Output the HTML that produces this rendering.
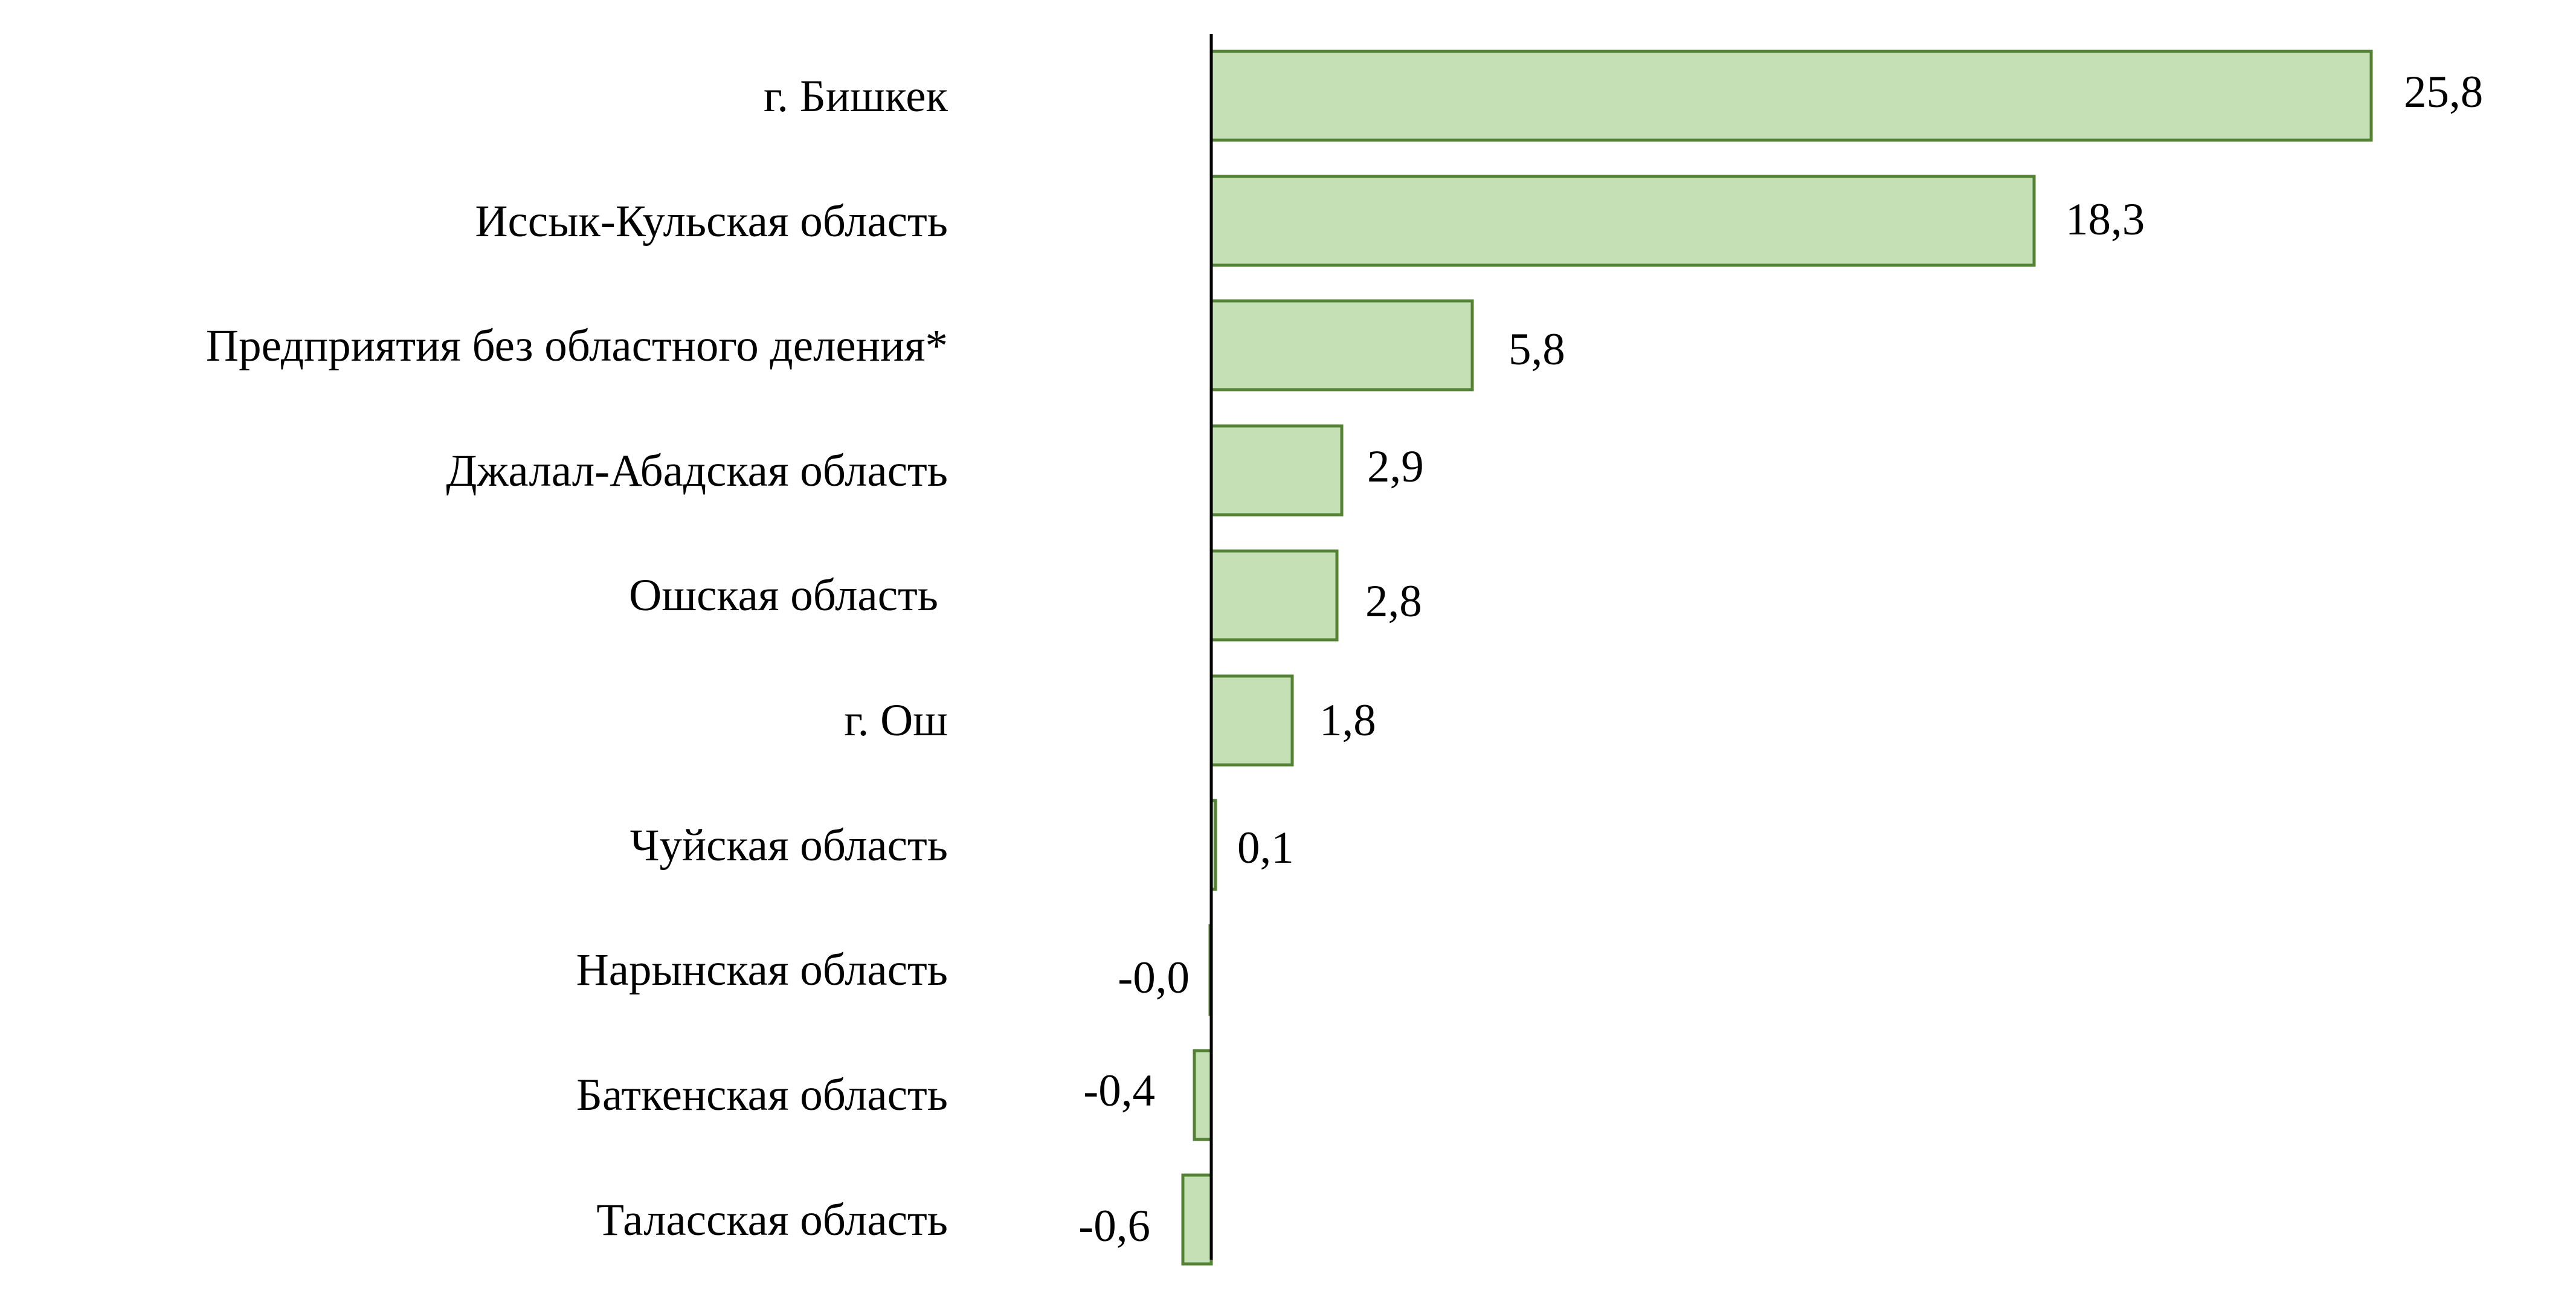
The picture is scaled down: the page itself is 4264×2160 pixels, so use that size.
<!DOCTYPE html>
<html><head><meta charset="utf-8"><style>
html,body{margin:0;padding:0;background:#fff;}
</style></head><body>
<svg width="4264" height="2155" viewBox="0 0 4264 2155" xmlns="http://www.w3.org/2000/svg" font-family="'Liberation Serif', serif" font-size="75" fill="#000">
<g stroke="#548235" stroke-width="5" fill="#c5e0b4">
<rect x="2005" y="85" width="1920" height="147"/>
<rect x="2005" y="292" width="1362" height="147"/>
<rect x="2005" y="498" width="432" height="147"/>
<rect x="2005" y="705" width="216" height="147"/>
<rect x="2005" y="912" width="208" height="147"/>
<rect x="2005" y="1119" width="134" height="147"/>
<rect x="2005" y="1325" width="7" height="147"/>
<rect x="2003" y="1532" width="2" height="147"/>
<rect x="1977" y="1739" width="28" height="147"/>
<rect x="1958" y="1945" width="47" height="147"/>
</g>
<line x1="2005" y1="56" x2="2005" y2="2085" stroke="#000" stroke-width="5"/>
<g text-anchor="end">
<text x="1569" y="184">г. Бишкек</text>
<text x="1569" y="391">Иссык-Кульская область</text>
<text x="1569" y="597">Предприятия без областного деления*</text>
<text x="1569" y="804">Джалал-Абадская область</text>
<text x="1553" y="1010">Ошская область</text>
<text x="1569" y="1217">г. Ош</text>
<text x="1569" y="1424">Чуйская область</text>
<text x="1569" y="1630">Нарынская область</text>
<text x="1569" y="1837">Баткенская область</text>
<text x="1569" y="2044">Таласская область</text>
<text x="1969" y="1643">-0,0</text>
<text x="1912" y="1830">-0,4</text>
<text x="1904" y="2054">-0,6</text>
</g>
<text x="3979" y="177">25,8</text>
<text x="3419" y="388">18,3</text>
<text x="2497" y="603">5,8</text>
<text x="2263" y="797">2,9</text>
<text x="2260" y="1020">2,8</text>
<text x="2184" y="1217">1,8</text>
<text x="2048" y="1428">0,1</text>
</svg>
</body></html>
